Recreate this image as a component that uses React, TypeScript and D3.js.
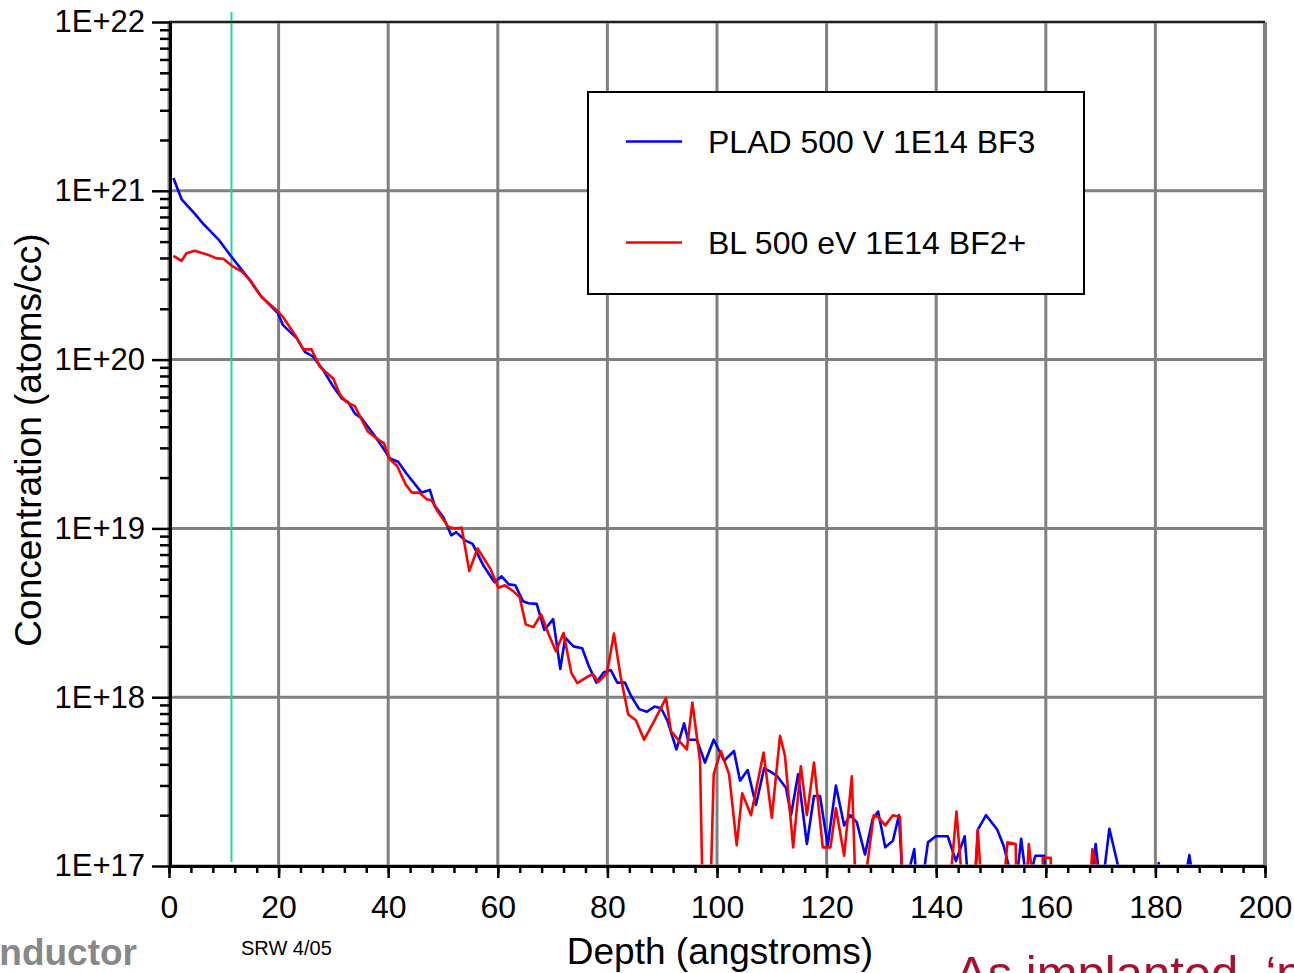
import React, { useRef, useEffect } from "react";
import * as d3 from "d3";

// counts below the detection floor are plotted at this level (just under the 1E+17 axis)
const ZERO = 9e16;

// depth (angstroms) and concentration (atoms/cc)
const pladDepth = [
  0.8, 2.3, 4.4, 6.3, 9.0, 11.4, 14.5, 16.6, 19.9, 20.8, 23.3, 24.8, 26.3, 28.1, 30.0, 31.5, 32.7,
  33.9, 35.1, 37.2, 39.1, 40.3, 41.8, 43.3, 46.1, 47.6, 48.5, 50.1, 51.5, 52.4, 54.0, 55.4, 57.4,
  59.4, 60.7, 62.0, 63.2, 64.6, 65.6, 67.1, 68.5, 70.1, 71.4, 72.3, 73.8, 75.4, 76.6, 78.0, 79.3,
  80.6, 81.8, 83.2, 84.3, 85.8, 87.2, 88.6, 89.8, 91.0, 92.6, 94.0, 94.7, 96.3, 97.8, 99.4, 101.3,
  103.1, 104.2, 105.6, 107.1, 108.6, 109.9, 111.0, 112.6, 113.5, 114.8, 116.4, 117.7, 118.8, 120.2,
  121.7, 123.2, 124.3, 125.5, 127.0, 128.4, 129.4, 130.7, 132.1, 133.2, 133.8, 134.9, 136.0, 136.3,
  137.7, 138.5, 139.9, 142.1, 143.6, 145.2, 145.7, 147.2, 147.6, 149.1, 151.1, 152.3, 153.6, 154.8,
  155.5, 156.3, 157.2, 158.1, 159.7, 160.0, 168.5, 169.1, 169.7, 170.6, 171.6, 172.9, 173.5, 180.4,
  180.6, 180.8, 185.6, 186.2, 186.7,
];
const pladConc = [
  1.19e21, 8.9e20, 7.5e20, 6.35e20, 5.16e20, 4.07e20, 3.03e20, 2.42e20, 1.88e20, 1.6e20, 1.34e20,
  1.11e20, 1.04e20, 8.7e19, 6.9e19, 5.9e19, 5.6e19, 4.8e19, 4.5e19, 3.66e19, 2.98e19, 2.6e19,
  2.48e19, 2.12e19, 1.63e19, 1.69e19, 1.36e19, 1.16e19, 9.1e18, 9.5e18, 8.5e18, 8.1e18, 6.0e18,
  4.8e18, 5.2e18, 4.66e18, 4.6e18, 3.7e18, 3.6e18, 3.57e18, 2.5e18, 2.9e18, 1.47e18, 2.25e18,
  2.0e18, 1.95e18, 1.53e18, 1.22e18, 1.4e18, 1.45e18, 1.22e18, 1.22e18, 1.02e18, 8.5e17, 8.2e17,
  8.8e17, 8.6e17, 7.2e17, 4.9e17, 7.0e17, 5.6e17, 5.6e17, 4.1e17, 5.6e17, 4.2e17, 4.8e17, 3.2e17,
  3.7e17, 2.3e17, 3.8e17, 3.6e17, 3.4e17, 2.9e17, 2.0e17, 3.5e17, 1.35e17, 2.6e17, 2.6e17, 1.32e17,
  3.0e17, 1.74e17, 2.0e17, 1.82e17, 1.17e17, 1.9e17, 2.1e17, 1.29e17, 1.41e17, 2.0e17, ZERO, ZERO,
  1.26e17, ZERO, ZERO, 1.38e17, 1.5e17, 1.5e17, 1.07e17, 1.5e17, ZERO, ZERO, 1.64e17, 2.0e17,
  1.65e17, 1.32e17, ZERO, ZERO, 1.45e17, ZERO, ZERO, 1.15e17, 1.15e17, ZERO, ZERO, 1.35e17, ZERO,
  ZERO, 1.66e17, 1.1e17, ZERO, ZERO, 1.04e17, ZERO, ZERO, 1.16e17, ZERO,
];

const blDepth = [
  0.8, 2.3, 3.2, 4.7, 6.9, 8.7, 9.9, 11.7, 13.3, 14.8, 16.9, 19.3, 20.8, 23.0, 24.5, 26.0, 27.5,
  30.0, 31.2, 32.4, 33.9, 36.3, 38.5, 39.2, 40.3, 41.6, 43.2, 44.3, 45.7, 47.0, 47.9, 49.1, 51.0,
  52.2, 53.4, 54.8, 56.3, 58.6, 60.1, 61.3, 62.8, 64.0, 65.1, 66.5, 67.9, 69.3, 70.6, 72.0, 73.4,
  74.5, 75.5, 76.5, 77.4, 78.3, 79.9, 81.2, 82.4, 83.8, 85.2, 86.7, 88.5, 90.7, 91.6, 93.1, 94.5,
  95.5, 96.9, 97.3, 98.9, 99.4, 100.7, 102.2, 103.6, 104.6, 106.2, 108.5, 110.0, 111.5, 112.4,
  113.9, 115.3, 116.4, 117.7, 119.3, 120.7, 121.7, 123.2, 124.6, 125.2, 127.2, 128.6, 129.4, 130.7,
  132.1, 133.4, 133.8, 142.7, 143.7, 144.6, 147.1, 147.6, 148.1, 152.5, 153.0, 154.5, 154.6, 156.6,
  156.9, 157.5, 159.4, 159.45, 160.9, 160.95, 168.2, 168.5, 169.6,
];
const blConc = [
  4.11e20, 3.85e20, 4.27e20, 4.42e20, 4.2e20, 3.98e20, 3.96e20, 3.55e20, 3.32e20, 2.96e20, 2.34e20,
  2.01e20, 1.79e20, 1.4e20, 1.15e20, 1.15e20, 9.1e19, 7.7e19, 6.2e19, 5.6e19, 5.3e19, 3.74e19,
  3.3e19, 3.2e19, 2.57e19, 2.35e19, 1.82e19, 1.63e19, 1.63e19, 1.49e19, 1.47e19, 1.25e19, 1.02e19,
  1.0e19, 1.01e19, 5.6e18, 7.6e18, 5.8e18, 4.45e18, 4.6e18, 4.25e18, 3.9e18, 2.7e18, 2.6e18,
  3.1e18, 2.35e18, 1.87e18, 2.4e18, 1.4e18, 1.21e18, 1.27e18, 1.33e18, 1.37e18, 1.23e18, 1.38e18,
  2.38e18, 1.33e18, 7.9e17, 7.3e17, 5.6e17, 7.2e17, 9.9e17, 6.3e17, 5.5e17, 4.9e17, 9.3e17, 4.2e17,
  ZERO, ZERO, 3.5e17, 4.8e17, 3.5e17, 1.33e17, 2.7e17, 2.0e17, 4.7e17, 1.93e17, 5.9e17, 4.5e17,
  1.29e17, 3.9e17, 2.0e17, 4.1e17, 1.29e17, 1.29e17, 2.2e17, 1.15e17, 3.4e17, ZERO, ZERO, 2.0e17,
  1.95e17, 1.74e17, 2.0e17, 1.95e17, ZERO, ZERO, 2.1e17, ZERO, ZERO, 1.64e17, ZERO, ZERO, 1.38e17,
  1.35e17, ZERO, ZERO, 1.35e17, ZERO, ZERO, 1.12e17, 1.12e17, ZERO, ZERO, 1.26e17, ZERO,
];

const seriesNames = ["PLAD 500 V 1E14 BF3", "BL 500 eV 1E14 BF2+"];
const seriesColors = ["#0000ff", "#ff0000"];
const xTicks = [0, 20, 40, 60, 80, 100, 120, 140, 160, 180, 200];
const yTicks = [1e17, 1e18, 1e19, 1e20, 1e21, 1e22];
const markerDepth = 11.4;

const W = 1294;
const H = 973;
const FONT = "'Liberation Sans', Arial, Helvetica, sans-serif";

function App() {
  const svgRef = useRef<SVGSVGElement>(null);

  useEffect(() => {
    const svg = d3.select(svgRef.current);
    svg.selectAll("*").remove();

    const x = d3.scaleLinear().domain([0, 200]).range([169, 1265]);
    const y = d3.scaleLog().domain([1e17, 1e22]).range([866, 22]);
    const [x0, x1] = x.range();
    const [y0, y1] = y.range();

    svg.append("rect").attr("width", W).attr("height", H).attr("fill", "#fff");

    // grid
    const grid = svg.append("g").attr("stroke", "#808080").attr("stroke-width", 3);
    grid
      .selectAll(".vgrid")
      .data(xTicks)
      .join("line")
      .attr("x1", (d) => x(d))
      .attr("x2", (d) => x(d))
      .attr("y1", y1)
      .attr("y2", y0)
      .attr("stroke-width", (d) => (d === 200 ? 4 : 3));
    grid
      .selectAll(".hgrid")
      .data(yTicks)
      .join("line")
      .attr("x1", x0)
      .attr("x2", x1)
      .attr("y1", (d) => y(d))
      .attr("y2", (d) => y(d));

    // marker line
    svg
      .append("line")
      .attr("x1", x(markerDepth))
      .attr("x2", x(markerDepth))
      .attr("y1", y1 - 10)
      .attr("y2", y0 - 4)
      .attr("stroke", "#22d3a5")
      .attr("stroke-width", 2);

    // data, clipped to the plot box
    svg
      .append("clipPath")
      .attr("id", "plot-clip")
      .append("rect")
      .attr("x", x0)
      .attr("y", y1)
      .attr("width", x1 - x0)
      .attr("height", y0 - y1 - 1.5);

    const line = d3
      .line<[number, number]>()
      .x((d) => x(d[0]))
      .y((d) => y(d[1]));

    const series: [number, number][][] = [
      pladDepth.map((d, i) => [d, pladConc[i]]),
      blDepth.map((d, i) => [d, blConc[i]]),
    ];
    svg
      .append("g")
      .attr("clip-path", "url(#plot-clip)")
      .selectAll("path")
      .data(series)
      .join("path")
      .attr("d", (d) => line(d))
      .attr("fill", "none")
      .attr("stroke", (d, i) => seriesColors[i])
      .attr("stroke-width", 2.6)
      .attr("stroke-linejoin", "round");

    // legend
    const lg = svg.append("g");
    lg.append("rect")
      .attr("x", 588)
      .attr("y", 92)
      .attr("width", 496)
      .attr("height", 202)
      .attr("fill", "#fff")
      .attr("stroke", "#000")
      .attr("stroke-width", 2);
    const items = lg
      .selectAll("g")
      .data(seriesNames)
      .join("g")
      .attr("transform", (d, i) => `translate(0,${141.5 + i * 101})`);
    items
      .append("line")
      .attr("x1", 626)
      .attr("x2", 682)
      .attr("stroke", (d, i) => seriesColors[i])
      .attr("stroke-width", 2.5);
    items
      .append("text")
      .attr("x", 708)
      .attr("y", 11)
      .attr("font-family", FONT)
      .attr("font-size", 32)
      .text((d) => d);

    // axes
    const fmt = (d: number) => `1E+${Math.round(Math.log10(d))}`;
    const yMinor: number[] = [];
    for (let e = 17; e < 22; e++) for (let m = 2; m <= 9; m++) yMinor.push(m * 10 ** e);

    const yAxis = svg
      .append("g")
      .attr("transform", `translate(${x0 + 1},0)`)
      .call(d3.axisLeft(y).tickValues(yTicks).tickFormat(fmt).tickSize(18).tickPadding(7).tickSizeOuter(0));
    svg
      .append("g")
      .attr("transform", `translate(${x0 + 1},0)`)
      .call(d3.axisLeft(y).tickValues(yMinor).tickFormat(() => "").tickSize(10).tickSizeOuter(0))
      .call((g) => g.select(".domain").remove());

    const xMinor = d3.range(0, 201, 4);
    const xAxis = svg
      .append("g")
      .attr("transform", `translate(0,${y0})`)
      .call(d3.axisBottom(x).tickValues(xTicks).tickSize(12).tickPadding(17).tickSizeOuter(0));
    svg
      .append("g")
      .attr("transform", `translate(0,${y0})`)
      .call(d3.axisBottom(x).tickValues(xMinor).tickFormat(() => "").tickSize(7).tickSizeOuter(0))
      .call((g) => g.select(".domain").remove());

    svg.selectAll(".tick line").attr("stroke", "#000").attr("stroke-width", 2.5);
    svg.selectAll(".domain").attr("stroke", "#000").attr("stroke-width", 3);
    yAxis.attr("font-family", FONT).attr("font-size", 31).selectAll("text").attr("fill", "#000");
    xAxis.attr("font-family", FONT).attr("font-size", 32).selectAll("text").attr("fill", "#000");

    // top frame line
    svg
      .append("line")
      .attr("x1", x0)
      .attr("x2", x1)
      .attr("y1", y1)
      .attr("y2", y1)
      .attr("stroke", "#000")
      .attr("stroke-width", 1.5);

    // titles
    svg
      .append("text")
      .attr("transform", "translate(41,440) rotate(-90)")
      .attr("text-anchor", "middle")
      .attr("font-family", FONT)
      .attr("font-size", 37)
      .text("Concentration (atoms/cc)");
    svg
      .append("text")
      .attr("x", 720)
      .attr("y", 964)
      .attr("text-anchor", "middle")
      .attr("font-family", FONT)
      .attr("font-size", 37)
      .text("Depth (angstroms)");
    svg
      .append("text")
      .attr("x", 241)
      .attr("y", 955)
      .attr("font-family", FONT)
      .attr("font-size", 20)
      .text("SRW 4/05");
    svg
      .append("text")
      .attr("x", 137)
      .attr("y", 965)
      .attr("text-anchor", "end")
      .attr("font-family", FONT)
      .attr("font-weight", "bold")
      .attr("font-size", 37)
      .attr("fill", "#888888")
      .text("nductor");
    svg
      .append("text")
      .attr("x", 955)
      .attr("y", 990)
      .attr("font-family", FONT)
      .attr("font-size", 49)
      .attr("fill", "#a8102e")
      .text("As implanted, \u2018p");
  }, []);

  return (
    <svg
      ref={svgRef}
      width={W}
      height={H}
      style={{ position: "absolute", left: 0, top: 0, display: "block" }}
    />
  );
}

export default App;
